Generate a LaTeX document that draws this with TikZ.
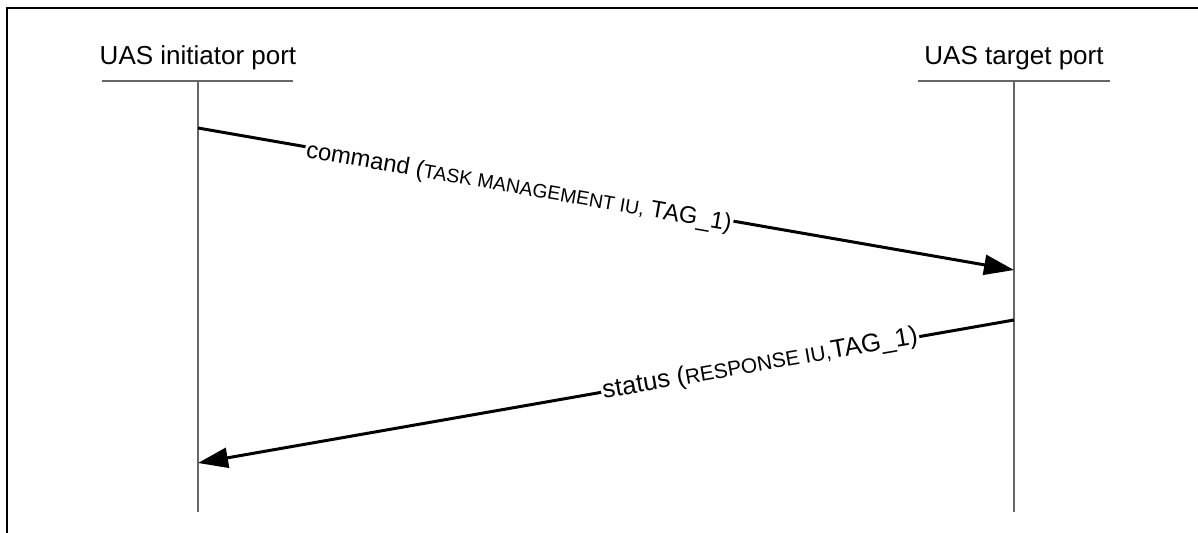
\documentclass[tikz,border=0pt]{standalone}
\usepackage{fontspec}
\setmainfont{Liberation Sans}
\usetikzlibrary{arrows.meta}
\newcommand{\smallcapsize}{\fontsize{9.7}{11}\selectfont}
\newcommand{\smallcapsizeB}{\fontsize{10.4}{12}\selectfont}
\begin{document}
\begin{tikzpicture}[x=0.5pt,y=-0.5pt,
  frameline/.style={line width=1.2pt},
  lifeline/.style={draw=black!60, line width=0.6pt},
  headrule/.style={draw=black!60, line width=0.6pt},
  msg/.style={line width=1.5pt, -{Triangle[length=15pt,width=10pt]}},
  portlabel/.style={font=\fontsize{13}{15}\selectfont, inner sep=0pt, anchor=base},
  msglabel/.style={sloped, fill=white, inner sep=0.8pt, font=\fontsize{11.9}{14}\selectfont}]
\useasboundingbox (0,0) rectangle (1198,533);

% outer frame (open at the right and bottom)
\draw[frameline] (7,533) -- (7,8) -- (1198,8);

% port headings
\node[portlabel] (ini) at (198,65) {UAS initiator port};
\node[portlabel] (tgt) at (1014,65) {UAS target port};

% heading rules
\coordinate (iniL) at (102,81);
\coordinate (iniR) at (293,81);
\coordinate (tgtL) at (918,81);
\coordinate (tgtR) at (1110,81);
\draw[headrule] (iniL) -- (iniR);
\draw[headrule] (tgtL) -- (tgtR);

% lifelines
\coordinate (iniTop) at (198,81);
\coordinate (iniBot) at (198,512);
\coordinate (tgtTop) at (1014,81);
\coordinate (tgtBot) at (1014,512);
\draw[lifeline] (iniTop) -- (iniBot);
\draw[lifeline] (tgtTop) -- (tgtBot);

% message end points on the lifelines
\coordinate (cmdFrom) at (198,128);
\coordinate (cmdTo) at (1014,270);
\coordinate (stsFrom) at (1014,320);
\coordinate (stsTo) at (198,463);

% command
\draw[msg] (cmdFrom) -- node[msglabel, pos=0.394, yshift=-2pt] (cmdlbl)
  {command ({\smallcapsize TASK MANAGEMENT IU,} TAG\_1)} (cmdTo);

% status
\draw[msg] (stsFrom) -- node[msglabel, pos=0.311, font=\fontsize{12.8}{15}\selectfont] (stslbl)
  {status ({\smallcapsizeB RESPONSE IU,}TAG\_1)} (stsTo);
\end{tikzpicture}
\end{document}
